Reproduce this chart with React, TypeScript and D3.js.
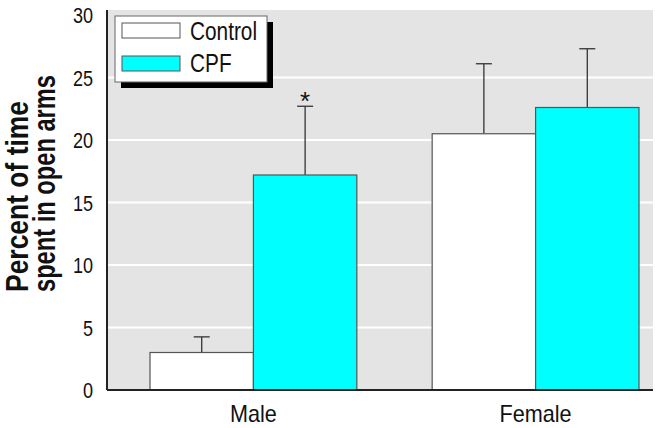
import { useEffect, useRef } from "react";
import * as d3 from "d3";

const groups = ["Male", "Female"];
const series = ["Control", "CPF"];
const means = [
  [3.0, 17.2],
  [20.5, 22.6],
];
const errors = [
  [1.25, 5.5],
  [5.6, 4.7],
];
const yTicks = [0, 5, 10, 15, 20, 25, 30];
const significant = [[false, true], [false, false]];

const font = "'Liberation Sans', Arial, sans-serif";
const colors = ["#ffffff", "#00ffff"];

// estrecha el texto para imitar una fuente condensada
const condense = (sel: any, factor: number) => {
  sel.each(function (this: SVGTextElement) {
    const w = this.getComputedTextLength();
    d3.select(this).attr("textLength", w * factor).attr("lengthAdjust", "spacingAndGlyphs");
  });
};

const App = () => {
  const ref = useRef<SVGSVGElement>(null);

  useEffect(() => {
    if (!ref.current) return;
    const svg = d3.select(ref.current);
    svg.selectAll("*").remove();

    const plotLeft = 107, plotRight = 653, plotTop = 10, plotBottom = 390;
    const width = plotRight - plotLeft;
    const height = plotBottom - plotTop;

    const g = svg.append("g").attr("transform", `translate(${plotLeft},${plotTop})`);

    const y = d3.scaleLinear().domain([0, 30]).range([height, 5]);
    const x0 = d3.scaleBand().domain(groups).range([43, 532]).paddingInner(0.267).paddingOuter(0);
    const x1 = d3.scaleBand().domain(series).range([0, x0.bandwidth()]);

    // fondo gris
    g.append("rect").attr("width", width).attr("height", height).attr("fill", "#e4e4e4");

    // grid
    g.selectAll(".grid")
      .data(yTicks.filter((t) => t > 0 && t < 30))
      .enter()
      .append("line")
      .attr("x1", 0)
      .attr("x2", width)
      .attr("y1", (d) => y(d))
      .attr("y2", (d) => y(d))
      .attr("stroke", "#ffffff")
      .attr("stroke-width", 2);

    // barras + error
    groups.forEach((grp, gi) => {
      series.forEach((s, si) => {
        const bx = x0(grp)! + x1(s)!;
        const cx = bx + x1.bandwidth() / 2;
        const top = y(means[gi][si]);
        const etop = y(means[gi][si] + errors[gi][si]);
        g.append("line")
          .attr("x1", cx).attr("x2", cx)
          .attr("y1", top).attr("y2", etop)
          .attr("stroke", "#333").attr("stroke-width", 1.3);
        g.append("line")
          .attr("x1", cx - 8).attr("x2", cx + 8)
          .attr("y1", etop).attr("y2", etop)
          .attr("stroke", "#333").attr("stroke-width", 1.3);
        g.append("rect")
          .attr("x", bx)
          .attr("y", top)
          .attr("width", x1.bandwidth())
          .attr("height", height - top)
          .attr("fill", colors[si])
          .attr("stroke", "#555")
          .attr("stroke-width", 1.2);
        if (significant[gi][si]) {
          g.append("text")
            .attr("x", cx)
            .attr("y", etop + 4)
            .attr("text-anchor", "middle")
            .style("font-family", font)
            .style("font-size", "26px")
            .style("fill", "#111")
            .text("*");
        }
      });
    });

    // ejes
    g.append("line").attr("x1", 0).attr("x2", 0).attr("y1", 0).attr("y2", height)
      .attr("stroke", "#222").attr("stroke-width", 2);
    g.append("line").attr("x1", 0).attr("x2", width).attr("y1", height).attr("y2", height)
      .attr("stroke", "#222").attr("stroke-width", 2);

    const yt = g.selectAll(".ytick")
      .data(yTicks)
      .enter()
      .append("text")
      .attr("x", -14)
      .attr("y", (d) => y(d) + 8)
      .attr("text-anchor", "end")
      .style("font-family", font)
      .style("font-size", "22px")
      .style("fill", "#111")
      .text((d) => d);
    condense(yt, 0.82);

    const xl = g.selectAll(".xlab")
      .data(groups)
      .enter()
      .append("text")
      .attr("x", (d) => x0(d)! + x0.bandwidth() / 2)
      .attr("y", height + 32)
      .attr("text-anchor", "middle")
      .style("font-family", font)
      .style("font-size", "24px")
      .style("fill", "#111")
      .text((d) => d);
    condense(xl, 0.9);

    // etiqueta eje Y
    const yLabel = ["Percent of time", "spent in open arms"];
    const yLabelWidths = [191, 217];
    yLabel.forEach((t, i) => {
      svg.append("text")
        .attr("transform", `translate(${28 + i * 27},292) rotate(-90)`)
        .attr("text-anchor", "start")
        .attr("textLength", yLabelWidths[i])
        .attr("lengthAdjust", "spacingAndGlyphs")
        .style("font-family", font)
        .style("font-size", "31px")
        .style("font-weight", "700")
        .style("fill", "#111")
        .text(t);
    });

    // leyenda
    const lg = svg.append("g").attr("transform", "translate(115,16)");
    lg.append("rect").attr("x", 6).attr("y", 6).attr("width", 152).attr("height", 66).attr("fill", "#000");
    lg.append("rect").attr("width", 152).attr("height", 66).attr("fill", "#fff")
      .attr("stroke", "#666").attr("stroke-width", 1);
    series.forEach((s, i) => {
      lg.append("rect")
        .attr("x", 7).attr("y", 7 + i * 33)
        .attr("width", 58).attr("height", 15)
        .attr("fill", colors[i]).attr("stroke", "#555").attr("stroke-width", 1);
      const t = lg.append("text")
        .attr("x", 75).attr("y", 24 + i * 32)
        .style("font-family", font)
        .style("font-size", "26px")
        .style("fill", "#111")
        .text(s);
      condense(t, 0.8);
    });
  }, []);

  return (
    <svg ref={ref} width={662} height={428} style={{ display: "block", position: "absolute", left: 0, top: 0 }} />
  );
};

export default App;
